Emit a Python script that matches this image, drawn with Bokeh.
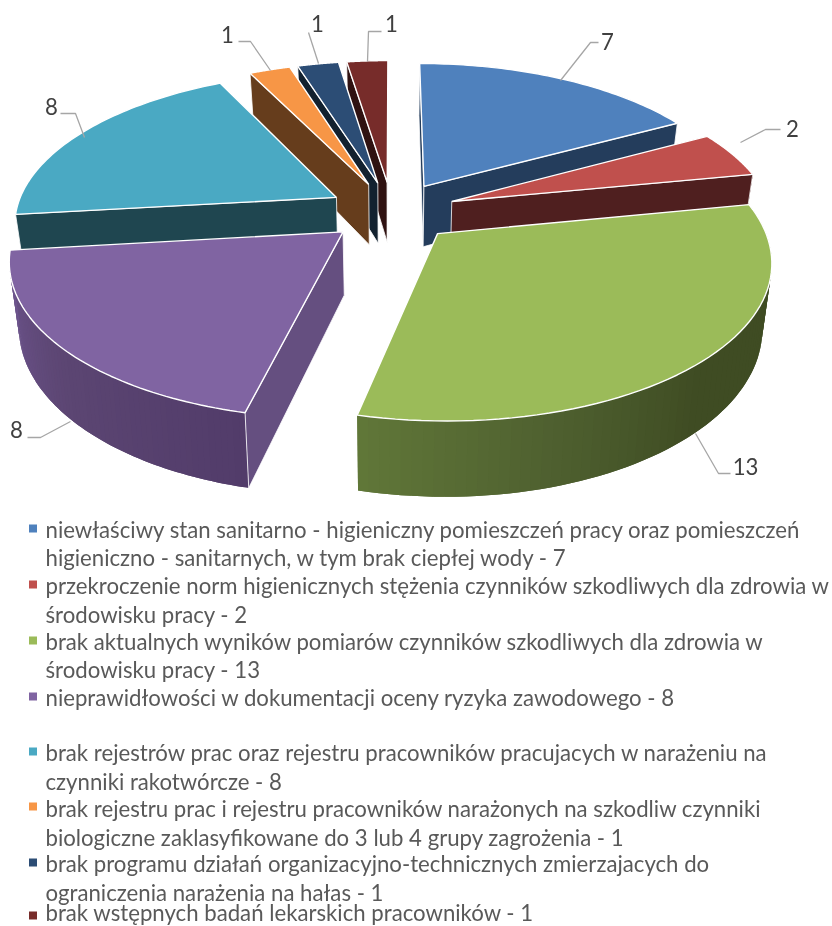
import math
from bokeh.plotting import figure
from bokeh.embed import file_html
from bokeh.resources import INLINE
from bokeh.core.properties import value

# ---- data ----
values = [7, 2, 13, 8, 8, 1, 1, 1]
top_colors = ["#4f81bd", "#c0504d", "#9bbb59", "#8064a2", "#4aa9c3", "#f79646", "#2c4d75", "#772c2a"]
wall_colors = ["#243d5c", "#4f1f1f", "#3f4c23", "#654f80", "#1f4650", "#663d1c", "#12212f", "#2f1211"]
rim_stops = [
    ["#243d5c", "#243d5c"], ["#4f1f1f", "#4f1f1f"],
    ["#47562b", "#3f4c23", "#3f4c23", "#4f6130", "#617839"],
    ["#523c6a", "#5c4673", "#6f5690"],
    ["#1f4650", "#1f4650"], ["#663d1c", "#663d1c"], ["#12212f", "#12212f"], ["#2f1211", "#2f1211"],
]
legend_items = [
    (0, ["niewłaściwy stan sanitarno - higieniczny pomieszczeń pracy oraz pomieszczeń",
         "higieniczno - sanitarnych, w tym brak ciepłej wody - 7"]),
    (1, ["przekroczenie norm higienicznych stężenia czynników szkodliwych dla zdrowia w",
         "środowisku pracy - 2"]),
    (2, ["brak aktualnych wyników pomiarów czynników szkodliwych dla zdrowia w",
         "środowisku pracy - 13"]),
    (3, ["nieprawidłowości w dokumentacji oceny ryzyka zawodowego - 8"]),
    (4, ["brak rejestrów prac oraz rejestru pracowników pracujacych w narażeniu na",
         "czynniki rakotwórcze - 8"]),
    (5, ["brak rejestru prac i rejestru pracowników narażonych na szkodliw czynniki",
         "biologiczne zaklasyfikowane do 3 lub 4 grupy zagrożenia - 1"]),
    (6, ["brak programu działań organizacyjno-technicznych zmierzajacych do",
         "ograniczenia narażenia na hałas - 1"]),
    (7, ["brak wstępnych badań lekarskich pracowników - 1"]),
]

# ---- layout ----
CX, CY, RX, RY, K, EXPL, DEPTH, BOTTOM_SHRINK = 391.5, 211, 321, 149.8, 0.159, 0.20, 62, 0.975
DRAW_ORDER = [7, 6, 5, 4, 0, 1, 3, 2]
LEGEND_BASELINES = [[529, 557], [585, 614], [641, 669], [697], [752, 781], [808, 837], [863, 892], [912]]
LEGEND_SQUARES = [528, 584, 640, 696, 751, 806, 862, 915]
LEADERS = [
    [(560, 80), (590, 42), (598, 42)],
    [(740, 142), (765, 129), (780, 129)],
    [(695, 433), (718, 473), (730, 473)],
    [(70, 421), (40, 437), (27, 437)],
    [(84, 137), (75, 113), (60, 113)],
    [(270, 70), (250, 41), (238, 41)],
    [(318, 63), (308, 32)],
    [(367, 61), (368, 31), (381, 31)],
]
LABEL_POS = [(607, 41), (792, 128), (745, 466), (16, 429), (51, 106), (227, 34), (317, 23), (391, 23)]
FONT = value("Lato")
TXT = "#595959"
FONT_SIZE = "22.2px"
EDGE = 1.4


def proj(theta, r, mid, low=False):
    X = r * math.sin(theta) + EXPL * math.sin(mid)
    Y = r * math.cos(theta) + EXPL * math.cos(mid)
    s = 1 / (1 + K * Y)
    sx = CX + RX * X * s
    sy = CY - RY * Y * s
    if low:
        sx = CX + (sx - CX) * BOTTOM_SHRINK
        sy += DEPTH * s
    return sx, sy


def mix(stops, t):
    n = len(stops) - 1
    i = min(int(t * n), n - 1)
    f = t * n - i
    a, b = stops[i], stops[i + 1]
    ch = [round(int(a[j:j + 2], 16) * (1 - f) + int(b[j:j + 2], 16) * f) for j in (1, 3, 5)]
    return "#%02x%02x%02x" % tuple(ch)


p = figure(width=832, height=926, x_range=(0, 832), y_range=(926, 0),
           toolbar_location=None, output_backend="svg", min_border=0)
p.axis.visible = False
p.grid.visible = False
p.outline_line_color = None
p.styles = {"position": "fixed", "left": "0", "top": "0"}

total = sum(values)
angles = [0]
for v in values:
    angles.append(angles[-1] + 2 * math.pi * v / total)

for i in DRAW_ORDER:
    a0, a1 = angles[i], angles[i + 1]
    mid = (a0 + a1) / 2
    apex = proj(0, 0, mid)
    bm = proj(mid, 1, mid)
    # outer rim, its part that faces the viewer (drawn first: the walls lie over its hidden end)
    n = 70
    ts = [a0 + (a1 - a0) * j / n for j in range(n + 1)]
    vis = [t for t in ts if math.cos(t) < 0.25 and math.sin(t) > -0.99]
    if len(vis) > 1 and i != 4:
        for j in range(len(vis) - 1):
            k = min(j + 2, len(vis) - 1)
            seg = vis[j:k + 1]
            upper = [proj(t, 1, mid) for t in seg]
            lower = [proj(t, 1, mid, True) for t in reversed(seg)]
            pts = upper + lower
            tm = (vis[j] - a0) / (a1 - a0)
            p.patch([q[0] for q in pts], [q[1] for q in pts], fill_color=mix(rim_stops[i], tm), line_color=None)
    # radial walls, only where they face the viewer
    for a in (a0, a1):
        rim = proj(a, 1, mid)
        ex, ey = rim[0] - apex[0], rim[1] - apex[1]
        bx, by = bm[0] - apex[0], bm[1] - apex[1]
        if (ex * by - ey * bx) * ex < 0:
            pts = [apex, rim, proj(a, 1, mid, True), proj(a, 0, mid, True)]
            p.patch([q[0] for q in pts], [q[1] for q in pts], fill_color=wall_colors[i],
                    line_color="white", line_width=0.8)
    # top face
    arc = [proj(a0 + (a1 - a0) * j / 60, 1, mid) for j in range(61)]
    xs = [apex[0]] + [q[0] for q in arc]
    ys = [apex[1]] + [q[1] for q in arc]
    p.patch(xs, ys, fill_color=top_colors[i], line_color="white", line_width=EDGE)

# leaders and data labels
for pts, lab, v in zip(LEADERS, LABEL_POS, values):
    p.line([q[0] for q in pts], [q[1] for q in pts], line_color="#a6a6a6", line_width=1.3)
    p.text([lab[0]], [lab[1]], text=[str(v)], text_font=FONT, text_font_size=FONT_SIZE,
           text_color="#404040", text_align="center", text_baseline="middle")

# legend
for (idx, lines), bases, sq in zip(legend_items, LEGEND_BASELINES, LEGEND_SQUARES):
    p.scatter([32.5], [sq], marker="square", size=8, fill_color=top_colors[idx], line_color=None)
    for line, b in zip(lines, bases):
        p.text([45], [b], text=[line], text_font=FONT, text_font_size=FONT_SIZE,
               text_color=TXT, text_align="left", text_baseline="alphabetic")

open("out.html", "w").write(file_html(p, INLINE))
